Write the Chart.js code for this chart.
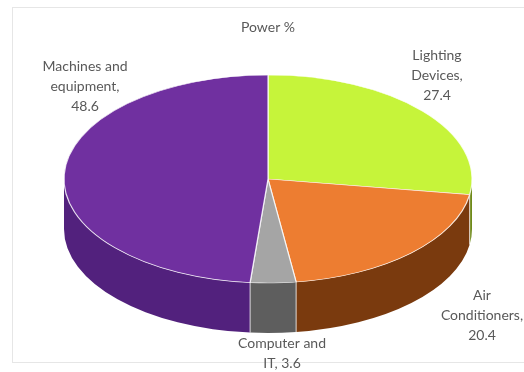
<!DOCTYPE html>
<html>
<head>
<meta charset="utf-8">
<script src="https://cdn.jsdelivr.net/npm/chart.js@4.4.1/dist/chart.umd.min.js"></script>
<style>
html,body{margin:0;padding:0;background:#fff;}
canvas{display:block;}
</style>
</head>
<body>
<canvas id="c" width="524" height="372"></canvas>
<script>
// ---- data ----
const chartTitle = 'Power %';
const categories = ['Lighting Devices', 'Air Conditioners', 'Computer and IT', 'Machines and equipment'];
const powerPct = [27.4, 20.4, 3.6, 48.6];

// ---- styles / layout ----
const topColors  = ['#c6f43a', '#ed7d31', '#a5a5a5', '#7030a0'];
const sideColors = ['#6f8a1a', '#7a3a0e', '#5e5e5e', '#52217d'];
const GEOM = { cx: 268, cy: 179, rx: 204, ry: 104, depth: 50 };
// label anchor (centre x, first-line y) and words per line
const labelLayout = [
  { x: 437, y: 55,  words: [1, 1, 1] },
  { x: 482, y: 295, words: [1, 1, 1] },
  { x: 282, y: 343, words: [2, 2] },
  { x: 85,  y: 66,  words: [2, 1, 1] }
];
const LABEL_FONT = '14px Lato, "Open Sans", sans-serif';
const LINE_H = 20;

function labelLines(i) {
  const words = (categories[i] + ', ' + powerPct[i]).split(' ');
  const out = []; let k = 0;
  labelLayout[i].words.forEach(n => { out.push(words.slice(k, k + n).join(' ')); k += n; });
  if (k < words.length) out[out.length - 1] += ' ' + words.slice(k).join(' ');
  return out;
}

const framePlugin = {
  id: 'frame',
  beforeDraw(chart) {
    const ctx = chart.ctx;
    ctx.save();
    ctx.fillStyle = '#fff';
    ctx.fillRect(0, 0, chart.width, chart.height);
    ctx.strokeStyle = '#e6e6e6';
    ctx.lineWidth = 1;
    ctx.strokeRect(12.5, 7.5, 530, 355);
    ctx.restore();
  }
};

const pie3d = {
  id: 'pie3d',
  beforeDatasetsDraw(chart) {
    const ctx = chart.ctx;
    const arcs = chart.getDatasetMeta(0).data;
    const { cx, cy, rx, ry, depth } = GEOM;
    // side walls (front half only)
    arcs.forEach((a, i) => {
      const a0 = Math.max(a.startAngle, 0);
      const a1 = Math.min(a.endAngle, Math.PI);
      if (a1 <= a0) return;
      ctx.save();
      ctx.beginPath();
      ctx.ellipse(cx, cy + depth, rx, ry, 0, a0, a1, false);
      ctx.ellipse(cx, cy, rx, ry, 0, a1, a0, true);
      ctx.closePath();
      ctx.fillStyle = sideColors[i];
      ctx.fill();
      ctx.restore();
    });
    // light seams on the side at slice boundaries
    ctx.save();
    ctx.strokeStyle = 'rgba(255,255,255,0.75)';
    ctx.lineWidth = 1;
    arcs.forEach(a => {
      const ang = a.startAngle;
      if (ang > 0 && ang < Math.PI) {
        const x = cx + rx * Math.cos(ang), y = cy + ry * Math.sin(ang);
        ctx.beginPath(); ctx.moveTo(x, y); ctx.lineTo(x, y + depth); ctx.stroke();
      }
    });
    ctx.restore();
    // transform so the library's arcs become the elliptical top face
    const a = arcs[0];
    const R = a.outerRadius;
    ctx.save();
    ctx.translate(cx, cy);
    ctx.scale(rx / R, ry / R);
    ctx.translate(-a.x, -a.y);
  },
  afterDatasetsDraw(chart) {
    chart.ctx.restore();
  },
  afterDraw(chart) {
    const ctx = chart.ctx;
    ctx.save();
    ctx.font = LABEL_FONT;
    ctx.fillStyle = '#595959';
    ctx.textAlign = 'center';
    ctx.textBaseline = 'middle';
    labelLayout.forEach((L, i) => {
      labelLines(i).forEach((t, j) => ctx.fillText(t, L.x, L.y + j * LINE_H));
    });
    ctx.restore();
  }
};

new Chart(document.getElementById('c'), {
  type: 'pie',
  data: {
    labels: categories,
    datasets: [{
      data: powerPct,
      backgroundColor: topColors,
      borderColor: 'rgba(255,255,255,0.8)',
      borderWidth: 1
    }]
  },
  options: {
    responsive: false,
    animation: false,
    devicePixelRatio: 1,
    layout: { padding: { left: 12 } },
    plugins: {
      legend: { display: false },
      tooltip: { enabled: false },
      title: {
        display: true,
        text: chartTitle,
        color: '#595959',
        font: { family: 'Lato, "Open Sans", sans-serif', size: 14, weight: 'normal' },
        padding: { top: 19, bottom: 10 }
      }
    }
  },
  plugins: [framePlugin, pie3d]
});
</script>
</body>
</html>
